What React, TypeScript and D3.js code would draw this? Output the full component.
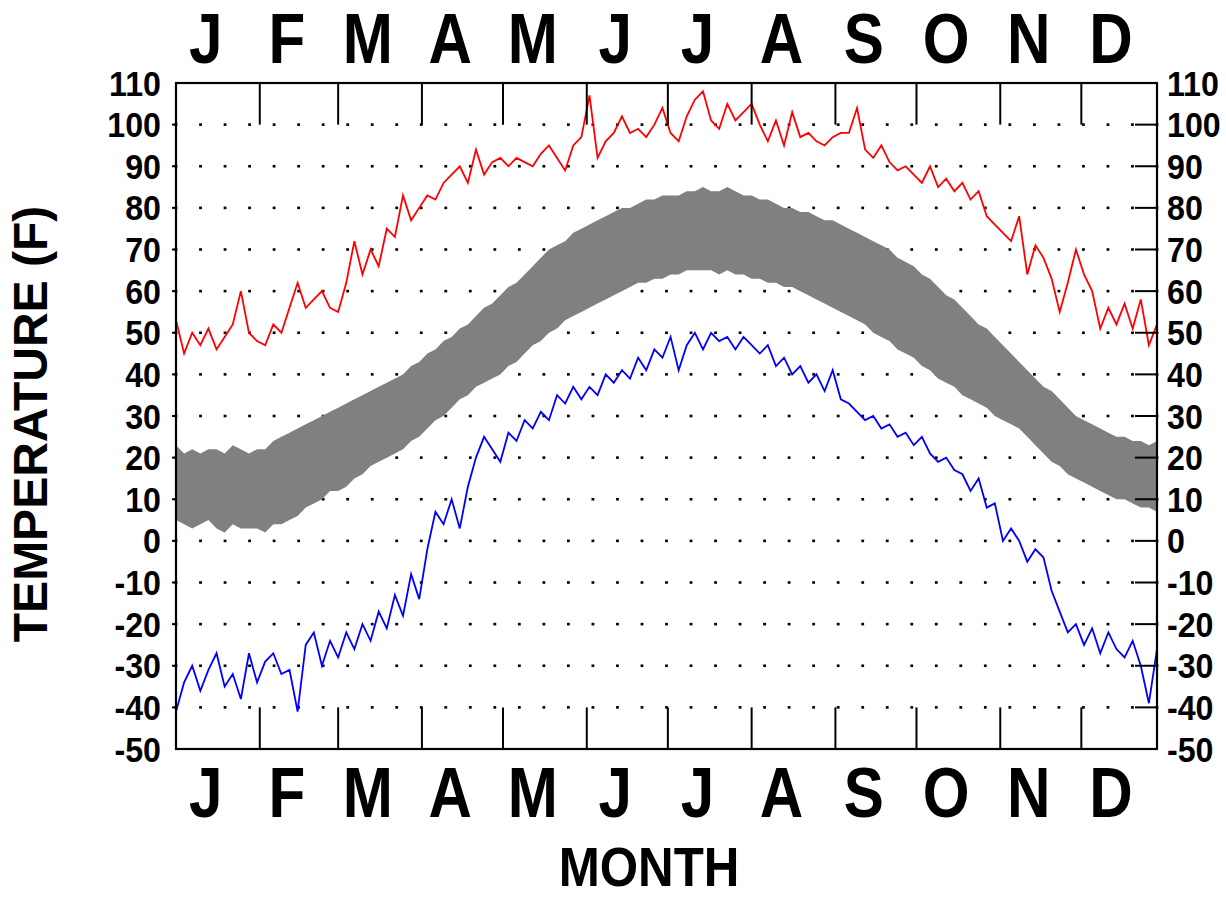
import React from "react";
import * as d3 from "d3";

// month letters and leap-year month starts (day of year)
const months = ["J", "F", "M", "A", "M", "J", "J", "A", "S", "O", "N", "D"];
const monthStart = [0, 31, 60, 91, 121, 152, 182, 213, 244, 274, 305, 335];
const monthLen = [31, 29, 31, 30, 31, 30, 31, 31, 30, 31, 30, 31];
const tempTicks = [-50, -40, -30, -20, -10, 0, 10, 20, 30, 40, 50, 60, 70, 80, 90, 100, 110];

// sampled every 3 days, day 0 .. 363
const days = d3.range(0, 364, 3);

// record highs (red)
const recordHigh = [
  53, 45, 50, 47, 51, 46, 49, 52, 60, 50, 48,
  47, 52, 50, 56, 62, 56, 58, 60, 56,
  55, 62, 72, 64, 70, 66, 75, 73, 83, 77,
  80, 83, 82, 86, 88, 90, 86, 94, 88, 91,
  92, 90, 92, 91, 90, 93, 95, 92, 89, 95, 97,
  107, 92, 96, 98, 102, 98, 99, 97, 100, 104,
  98, 96, 102, 106, 108, 101, 99, 105, 101, 103,
  105, 100, 96, 101, 95, 103, 97, 98, 96, 95,
  97, 98, 98, 104, 94, 92, 95, 91, 89, 90,
  88, 86, 90, 85, 87, 84, 86, 82, 84, 78, 76,
  74, 72, 78, 64, 71, 68, 63, 55, 62, 70,
  64, 60, 51, 56, 52, 57, 51, 58, 47, 52,
];

// record lows (blue)
const recordLow = [
  -41, -34, -30, -36, -31, -27, -35, -32, -38, -27, -34,
  -29, -27, -32, -31, -41, -25, -22, -30, -24,
  -28, -22, -26, -20, -24, -17, -21, -13, -18, -8,
  -14, -2, 7, 4, 10, 3, 13, 20, 25, 22,
  19, 26, 24, 29, 27, 31, 29, 35, 33, 37, 34,
  37, 35, 40, 38, 41, 39, 44, 41, 46, 44,
  49, 41, 47, 50, 46, 50, 48, 49, 46, 49,
  47, 45, 47, 42, 44, 40, 42, 38, 40, 36,
  41, 34, 33, 31, 29, 30, 27, 28, 25, 26,
  23, 25, 21, 19, 20, 17, 16, 12, 15, 8, 9,
  0, 3, 0, -5, -2, -4, -12, -17, -22, -20,
  -25, -21, -27, -22, -26, -28, -24, -30, -39, -26,
];

// gray band upper and lower edges
const bandHigh = [
  23, 21, 22, 21, 22, 22, 21, 23, 22, 21, 22,
  22, 24, 25, 26, 27, 28, 29, 30, 31,
  32, 33, 34, 35, 36, 37, 38, 39, 40, 42,
  43, 45, 46, 48, 49, 51, 52, 54, 56, 57,
  59, 61, 62, 64, 66, 68, 70, 71, 72, 74, 75,
  76, 77, 78, 79, 80, 80, 81, 82, 82, 83,
  83, 83, 84, 84, 85, 84, 84, 85, 84, 83,
  83, 82, 82, 81, 80, 80, 79, 79, 78, 77,
  77, 76, 75, 74, 73, 72, 71, 70, 68, 67,
  66, 64, 63, 61, 59, 58, 56, 54, 52, 51, 49,
  47, 45, 43, 41, 39, 37, 36, 34, 32, 30,
  29, 28, 27, 26, 25, 25, 24, 24, 23, 24,
];

const bandLow = [
  5, 4, 3, 4, 5, 3, 2, 4, 3, 3, 3,
  2, 4, 4, 5, 6, 8, 9, 10, 12,
  12, 13, 15, 16, 18, 19, 20, 21, 22, 24,
  25, 27, 29, 30, 32, 34, 35, 37, 38, 39,
  40, 42, 43, 45, 47, 48, 50, 51, 53, 54, 55,
  56, 57, 58, 59, 60, 61, 62, 62, 63, 63,
  64, 64, 65, 65, 65, 65, 64, 65, 64, 64,
  63, 63, 62, 62, 61, 61, 60, 59, 58, 57,
  56, 55, 54, 53, 52, 50, 49, 48, 46, 45,
  44, 42, 41, 39, 38, 37, 35, 34, 33, 32, 30,
  29, 28, 27, 25, 23, 21, 19, 18, 16, 15,
  14, 13, 12, 11, 10, 10, 9, 8, 8, 7,
];

const font = "'Liberation Sans', Arial, sans-serif";

const App = () => {
  const left = 176;
  const right = 1157;
  const top = 83;
  const bottom = 749;

  const x = d3.scaleLinear().domain([0, 363]).range([left, right]);
  const y = d3.scaleLinear().domain([-50, 110]).range([bottom, top]);

  const line = d3
    .line<number>()
    .x((_, i) => x(days[i]))
    .y((v) => y(v));

  const area = d3
    .area<number>()
    .x((_, i) => x(days[i]))
    .y0((_, i) => y(bandLow[i]))
    .y1((v) => y(v));

  // dotted grid: 40 steps across the plot
  const dotX = d3.range(0, 41).map((k) => left + (k * (right - left)) / 40);
  const gridVals = tempTicks.filter((t) => t > -50 && t < 110);
  const tickLen = y(100) - y(110);

  const labelX = (i: number) => x(monthStart[i] + monthLen[i] / 2 - 4.5);

  return (
    <svg
      width={1226}
      height={898}
      style={{ position: "absolute", left: 0, top: 0, background: "#fff" }}
    >
      <defs>
        <clipPath id="plot">
          <rect x={left} y={top} width={right - left} height={bottom - top} />
        </clipPath>
      </defs>

      {/* grid dots */}
      <g fill="#000">
        {gridVals.map((t) =>
          dotX.map((dx, k) => (
            <rect key={`${t}-${k}`} x={dx - 1.4} y={y(t) - 1.3} width={2.8} height={2.6} />
          ))
        )}
      </g>

      <g clipPath="url(#plot)">
        <path d={area(bandHigh) || ""} fill="#808080" />
        <path d={line(recordHigh) || ""} fill="none" stroke="#ff0000" strokeWidth={1.8} />
        <path d={line(recordLow) || ""} fill="none" stroke="#0000ff" strokeWidth={1.8} />
      </g>

      {/* frame */}
      <rect
        x={left}
        y={top}
        width={right - left}
        height={bottom - top}
        fill="none"
        stroke="#000"
        strokeWidth={2.2}
      />

      {/* month ticks top and bottom */}
      <g stroke="#000" strokeWidth={2}>
        {monthStart.slice(1).map((d) => (
          <g key={d}>
            <line x1={x(d)} x2={x(d)} y1={top} y2={top + tickLen} />
            <line x1={x(d)} x2={x(d)} y1={bottom} y2={bottom - tickLen} />
          </g>
        ))}
        {/* y ticks */}
        {gridVals.map((t) => (
          <g key={t}>
            <line x1={right - 22} x2={right} y1={y(t)} y2={y(t)} />
            <line x1={left - 4} x2={left} y1={y(t)} y2={y(t)} />
          </g>
        ))}
      </g>

      {/* y tick labels */}
      <g fontFamily={font} fontWeight="bold" fontSize={35} fill="#000">
        {tempTicks.map((t) => (
          <g key={t}>
            <text transform={`translate(161,${y(t) + 12.5}) scale(0.92,1)`} textAnchor="end">
              {t}
            </text>
            <text transform={`translate(1167,${y(t) + 12.5}) scale(0.92,1)`} textAnchor="start">
              {t}
            </text>
          </g>
        ))}
      </g>

      {/* month letters */}
      <g fontFamily={font} fontWeight="bold" fontSize={70} fill="#000">
        {months.map((m, i) => (
          <g key={i}>
            <text transform={`translate(${labelX(i)},63) scale(0.86,1)`} textAnchor="middle">
              {m}
            </text>
            <text transform={`translate(${labelX(i)},817) scale(0.86,1)`} textAnchor="middle">
              {m}
            </text>
          </g>
        ))}
      </g>

      {/* axis titles */}
      <text
        transform="translate(649,886) scale(0.88,1)"
        textAnchor="middle"
        fontFamily={font}
        fontWeight="bold"
        fontSize={56}
      >
        MONTH
      </text>
      <text
        transform="translate(47,424) rotate(-90)"
        textAnchor="middle"
        fontFamily={font}
        fontWeight="bold"
        fontSize={48}
      >
        TEMPERATURE (F)
      </text>
    </svg>
  );
};

export default App;
